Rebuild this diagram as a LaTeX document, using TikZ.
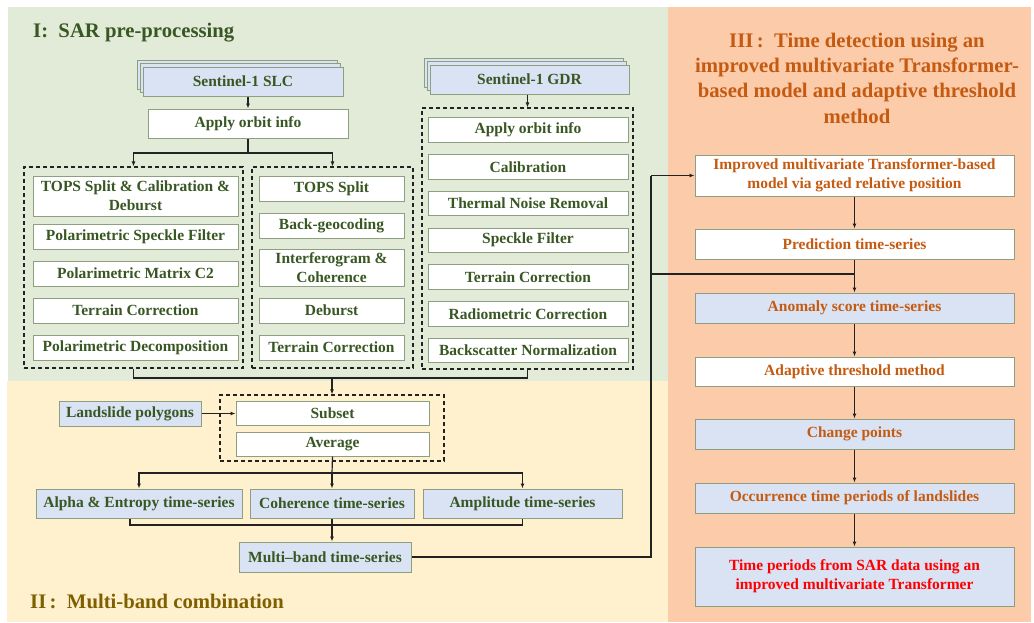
\documentclass[tikz,border=0pt]{standalone}
\usepackage{fontspec}
\setmainfont{Liberation Serif}
\usetikzlibrary{arrows.meta,shadows}
\definecolor{bggreen}{HTML}{E2EBD7}
\definecolor{bgyellow}{HTML}{FFF0CE}
\definecolor{bgorange}{HTML}{FBCBAA}
\definecolor{boxblue}{HTML}{DAE3F3}
\definecolor{boxborder}{HTML}{8E9E80}
\definecolor{txtgreen}{HTML}{385723}
\definecolor{txtorange}{HTML}{C55A11}
\definecolor{txtbrown}{HTML}{7F6000}
\definecolor{txtred}{HTML}{FF0000}
\definecolor{linecol}{HTML}{222222}
\tikzset{
  base/.style={draw=boxborder, line width=1pt, inner sep=0pt, align=center,
    font=\fontsize{15.5}{19}\selectfont\bfseries},
  wbox/.style={base, fill=white, text=txtgreen},
  bbox/.style={base, fill=boxblue, text=txtgreen},
  obox/.style={base, fill=white, text=txtorange},
  obbox/.style={base, fill=boxblue, text=txtorange},
  stackbox/.style={bbox, double copy shadow={shadow xshift=-3pt, shadow yshift=3.5pt}},
  dbox/.style={draw=linecol, dash pattern=on 4pt off 3pt, line width=1.2pt, inner sep=0pt},
  conn/.style={draw=linecol, line width=1.2pt},
  arr/.style={conn, -{Latex[length=5pt,width=4pt]}},
  title/.style={inner sep=0pt, font=\fontsize{20.7}{25.3}\selectfont\bfseries},
}
\begin{document}
\begin{tikzpicture}[x=1pt,y=-1pt]
\useasboundingbox (0,0) rectangle (1034,622);
% backgrounds
\fill[bggreen] (8,7) rectangle (668,381);
\fill[bgyellow] (7,381) rectangle (668,622);
\fill[bgorange] (668,7) rectangle (1031,622);

% titles
\node[title, anchor=west, text=txtgreen] (t1) at (33,33) {I:\ \ SAR pre-processing};
\node[title, anchor=west, text=txtbrown] (t2) at (30,601) {II\,:\ \ Multi-band combination};
\node[title, align=center, text=txtorange] (t3) at (857,78) {III\,:\ \ Time detection using an\\improved multivariate Transformer-\\based model and adaptive threshold\\method};

% Section I
\node[stackbox, minimum width=200pt, minimum height=29pt] (slc) at (243,81.5) {Sentinel-1 SLC};
\node[wbox, minimum width=200pt, minimum height=29pt] (a1) at (248,123.5) {Apply orbit info};
\node[dbox, minimum width=219pt, minimum height=201pt] (dL) at (133.5,267.5) {};
\node[dbox, minimum width=161pt, minimum height=201pt] (dM) at (332.5,267.5) {};

\node[wbox, minimum width=205pt, minimum height=40pt] (L1) at (135.5,196) {TOPS Split \& Calibration \&\\Deburst};
\node[wbox, minimum width=205pt, minimum height=25pt] (L2) at (135.5,236.5) {Polarimetric Speckle Filter};
\node[wbox, minimum width=205pt, minimum height=25pt] (L3) at (135.5,273.5) {Polarimetric Matrix C2};
\node[wbox, minimum width=205pt, minimum height=25pt] (L4) at (135.5,310.5) {Terrain Correction};
\node[wbox, minimum width=205pt, minimum height=25pt] (L5) at (135.5,347.5) {Polarimetric Decomposition};

\node[wbox, minimum width=145pt, minimum height=25pt] (M1) at (331.5,188.5) {TOPS Split};
\node[wbox, minimum width=145pt, minimum height=25pt] (M2) at (331.5,225.5) {Back-geocoding};
\node[wbox, minimum width=145pt, minimum height=37pt] (M3) at (331.5,267.5) {Interferogram \&\\Coherence};
\node[wbox, minimum width=145pt, minimum height=25pt] (M4) at (331.5,310.5) {Deburst};
\node[wbox, minimum width=145pt, minimum height=25pt] (M5) at (331.5,347.5) {Terrain Correction};

\node[stackbox, minimum width=199pt, minimum height=29pt] (gdr) at (529.5,79.5) {Sentinel-1 GDR};
\node[dbox, minimum width=211pt, minimum height=261pt] (dR) at (527.5,238.5) {};
\node[wbox, minimum width=200pt, minimum height=24.5pt] (R1) at (528,130) {Apply orbit info};
\node[wbox, minimum width=200pt, minimum height=24.5pt] (R2) at (528,166.75) {Calibration};
\node[wbox, minimum width=200pt, minimum height=24.5pt] (R3) at (528,203.5) {Thermal Noise Removal};
\node[wbox, minimum width=200pt, minimum height=24.5pt] (R4) at (528,240.25) {Speckle Filter};
\node[wbox, minimum width=200pt, minimum height=24.5pt] (R5) at (528,277) {Terrain Correction};
\node[wbox, minimum width=200pt, minimum height=24.5pt] (R6) at (528,313.75) {Radiometric Correction};
\node[wbox, minimum width=200pt, minimum height=24.5pt] (R7) at (528,350.5) {Backscatter Normalization};

% Section II
\node[dbox, minimum width=224pt, minimum height=66pt] (dS) at (332,428) {};
\node[wbox, minimum width=193pt, minimum height=24pt] (sub) at (332.5,413) {Subset};
\node[wbox, minimum width=193pt, minimum height=24pt] (avg) at (332.5,444) {Average};
\node[bbox, minimum width=142pt, minimum height=25pt] (land) at (130,413.5) {Landslide polygons};
\node[bbox, minimum width=206pt, minimum height=29pt] (alpha) at (139,503.5) {Alpha \& Entropy time-series};
\node[bbox, minimum width=164pt, minimum height=29pt] (coh) at (332,503.5) {Coherence time-series};
\node[bbox, minimum width=199pt, minimum height=29pt] (amp) at (522.5,503.5) {Amplitude time-series};
\node[bbox, minimum width=172pt, minimum height=30pt] (multi) at (325,557) {Multi--band time-series};

% Section III
\node[obox, minimum width=319pt, minimum height=41pt] (trans) at (854.5,175.5) {Improved multivariate Transformer-based\\model via gated relative position};
\node[obox, minimum width=319pt, minimum height=30pt] (pred) at (854.5,244) {Prediction time-series};
\node[obbox, minimum width=319pt, minimum height=30pt] (anom) at (854.5,308) {Anomaly score time-series};
\node[obox, minimum width=319pt, minimum height=29pt] (adapt) at (854.5,371.5) {Adaptive threshold method};
\node[obbox, minimum width=319pt, minimum height=30pt] (change) at (854.5,434) {Change points};
\node[obbox, minimum width=319pt, minimum height=30pt] (occ) at (854.5,498) {Occurrence time periods of landslides};
\node[obbox, minimum width=319pt, minimum height=59pt, text=txtred] (final) at (854.5,576.5) {Time periods from SAR data using an\\improved multivariate Transformer};

% connectors section I
\coordinate (j1) at (248,153);
\coordinate (j2) at (332,378);
\draw[arr] (a1.north |- slc.south) -- (a1.north);
\draw[conn] (a1.south) -- (j1);
\draw[arr] (j1) -| (dL.north);
\draw[arr] (j1) -| (dM.north);
\draw[arr] (dR.north |- gdr.south) -- (dR.north);
\draw[conn] (dL.south) |- (j2 -| dR.south) -- (dR.south);
\draw[arr] (j2) -- (dS.north);

% connectors section II
\coordinate (j3) at (332,473);
\coordinate (j4) at (332,525);
\draw[arr] (land.east) -- (sub.west |- land.east);
\draw[conn] (avg.south) -- (j3);
\draw[arr] (j3) -| (alpha.north);
\draw[arr] (j3) -| (amp.north);
\draw[arr] (j3) -- (coh.north);
\draw[conn] ([xshift=-9pt]alpha.south) |- (j4);
\draw[conn] (amp.south) |- (j4);
\draw[conn] (coh.south) -- (j4);
\draw[arr] (j4) -- (j4 |- multi.north);

% connectors to section III
\coordinate (j5) at (651,557);
\coordinate (j6) at (651,175.5);
\coordinate (j7) at (651,274);
\draw[conn] (multi.east) -- (j5) -- (j6);
\draw[arr] (j6) -- (trans.west);
\draw[conn] (j7) -- (j7 -| pred.south);

% section III chain
\draw[arr] (trans.south) -- (pred.north);
\draw[arr] (pred.south) -- (anom.north);
\draw[arr] (anom.south) -- (adapt.north);
\draw[arr] (adapt.south) -- (change.north);
\draw[arr] (change.south) -- (occ.north);
\draw[arr] (occ.south) -- (final.north);
\end{tikzpicture}
\end{document}
